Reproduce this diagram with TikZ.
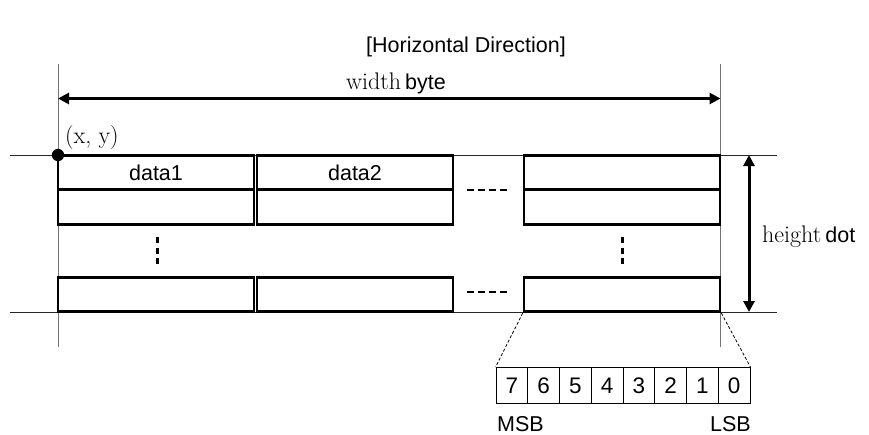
\documentclass[tikz,border=0pt]{standalone}
\usepackage{fontspec}
\newfontfamily\arialfont{Liberation Sans}
\usetikzlibrary{arrows.meta}
\newcommand\sanssize{\fontsize{21.5}{25}\selectfont}
\newcommand\serifsize{\fontsize{24}{28}\selectfont}
\tikzset{
  sans/.style={font=\arialfont\sanssize, inner sep=0pt},
  serif/.style={font=\serifsize, inner sep=0pt},
  cell/.style={draw, line width=2.6pt, minimum width=196pt, minimum height=34.5pt,
               inner sep=0pt, font=\arialfont\sanssize},
  bitcell/.style={draw, line width=0.9pt, minimum width=31.75pt, minimum height=36pt,
                  inner sep=0pt, font=\arialfont\fontsize{22.5}{26}\selectfont},
  guide/.style={line width=1pt, draw=black!85},
  rail/.style={line width=1pt, draw=black!55},
  dimarrow/.style={line width=3.5pt, {Triangle[length=11pt,width=11pt]}-{Triangle[length=11pt,width=11pt]}},
  ellipsis/.style={line width=2.6pt, dash pattern=on 6.5pt off 4.66pt},
  vellipsis/.style={line width=3pt, dash pattern=on 6pt off 4.5pt},
  zoomline/.style={line width=0.8pt, dash pattern=on 3pt off 2pt}
}
\begin{document}
\begin{tikzpicture}[x=1pt, y=-1pt]
\useasboundingbox (0,0) rectangle (869,434);

% title
\node[sans] (title) at (466,47) {[Horizontal Direction]};

% frame lines
\coordinate (vlTop) at (58,64);   \coordinate (vlBot) at (58,347);
\coordinate (vrTop) at (720.5,64); \coordinate (vrBot) at (720.5,347);
\coordinate (htL) at (10,155);    \coordinate (htR) at (777,155);
\coordinate (hbL) at (10,312);    \coordinate (hbR) at (777,312);
\draw[rail] (vlTop) -- (vlBot);
\draw[rail] (vrTop) -- (vrBot);
\draw[guide] (htL) -- (htR);
\draw[guide] (hbL) -- (hbR);

% width dimension
\coordinate (wL) at (58,98.5); \coordinate (wR) at (720.5,98.5);
\draw[dimarrow] (wL) -- (wR);
\node[anchor=base] (wlabel) at (396,89) {\serifsize width\,{\arialfont\sanssize byte}};

% height dimension
\coordinate (hT) at (749,155); \coordinate (hB) at (749,312);
\draw[line width=3pt, {Triangle[length=11pt,width=11pt]}-{Triangle[length=11pt,width=11pt]}] (hT) -- (hB);
\node[anchor=base west, inner sep=0pt] (hlabel) at (762,242) {\serifsize height\,{\arialfont\sanssize dot}};

% data cells
\node[cell] (r1c1) at (156,172.5) {data1};
\node[cell] (r1c2) at (355,172.5) {data2};
\node[cell] (r1c3) at (622,172.5) {};
\node[cell] (r2c1) at (156,207) {};
\node[cell] (r2c2) at (355,207) {};
\node[cell] (r2c3) at (622,207) {};
\node[cell] (rnc1) at (156,294.5) {};
\node[cell] (rnc2) at (355,294.5) {};
\node[cell] (rnc3) at (622,294.5) {};

% origin point
\fill (58,155) circle (6.2pt);
\node[serif, anchor=base west] (origin) at (65,143) {(x, y)};

% ellipses
\draw[ellipsis] (467,190) -- (507,190);
\draw[ellipsis] (467,292) -- (507,292);
\draw[vellipsis] (157,237) -- (157,264);
\draw[vellipsis] (622,237) -- (622,264);

% bit breakdown of one byte
\foreach \b [count=\i from 0] in {7,6,5,4,3,2,1,0} {
  \node[bitcell] (bit\b) at ({496+15.875+31.75*\i},385.5) {\b};
}
\draw[zoomline] (rnc3.south west) -- (bit7.north west);
\draw[zoomline] (rnc3.south east) -- (bit0.north east);
\node[sans, anchor=base west] (msb) at (497,431) {MSB};
\node[sans, anchor=base east] (lsb) at (751,431) {LSB};
\end{tikzpicture}
\end{document}
